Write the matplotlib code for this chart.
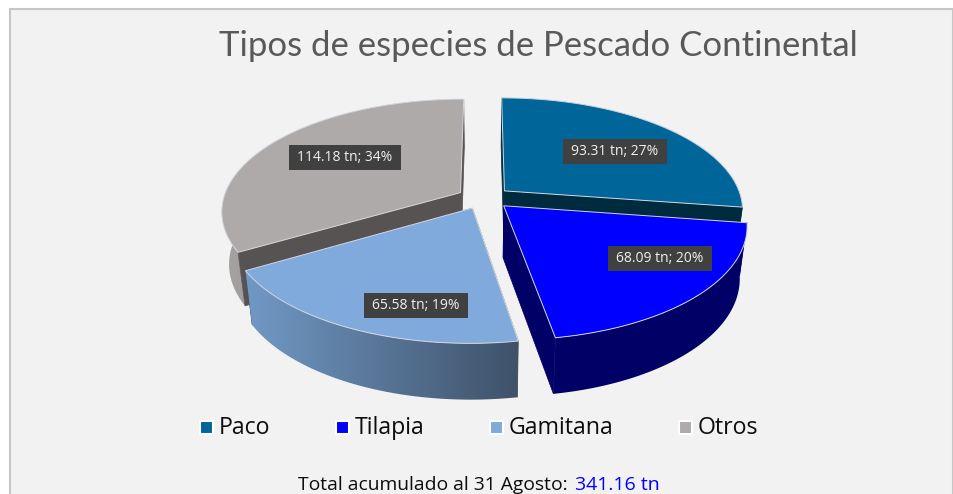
import numpy as np
import matplotlib
matplotlib.use('Agg')
import matplotlib.pyplot as plt
from matplotlib.colors import LinearSegmentedColormap
from matplotlib.patches import Polygon, Rectangle

species = ['Paco', 'Tilapia', 'Gamitana', 'Otros']
values = [93.31, 68.09, 65.58, 114.18]
percents = [27, 20, 19, 34]
total_label = '341.16 tn'

top_colors = ['#006699', '#0000ff', '#7faadb', '#aeaaaa']
cut_colors = ['#002b3e', '#000066', '#3f5269', '#575353']
wall_colors = [('#004d73', '#004d73'), ('#000066', '#000066'), ('#7199c6', '#3f5269'), ('#a5a2a1', '#807d7c')]

FONT = 'Open Sans'
CX, CY = 484, 198
RX, RY = 237, 110
PERSP = 0.16
EXPLODE_X = 0.115
EXPLODE_Y = 0.10
BOTTOM_SCALE = 0.972


def project(theta, mid):
    gx = np.sin(theta) + EXPLODE_X * np.sin(mid)
    gy = np.cos(theta) + EXPLODE_Y * np.cos(mid)
    p = 1 / (1 + PERSP * gy)
    return CX + RX * gx * p, CY - RY * gy * p


def project_apex(mid):
    gx = EXPLODE_X * np.sin(mid)
    gy = EXPLODE_Y * np.cos(mid)
    p = 1 / (1 + PERSP * gy)
    return CX + RX * gx * p, CY - RY * gy * p


def lower(pts):
    pts = np.asarray(pts, dtype=float)
    depth = 46 + 0.03 * pts[:, 1]
    return np.column_stack([CX + (pts[:, 0] - CX) * BOTTOM_SCALE, pts[:, 1] + depth])


fig = plt.figure(figsize=(9.54, 4.94), dpi=100, facecolor='white')
ax = fig.add_axes([0, 0, 1, 1])
ax.axis('off')

ax.add_patch(Rectangle((10, 9), 943, 520, facecolor='#f2f2f2', edgecolor='#c6c6c6', linewidth=1.5))

fractions = np.array(values) / sum(values)
edges = np.concatenate([[0], np.cumsum(fractions)]) * 2 * np.pi
slices = []
for i in range(len(values)):
    mid = (edges[i] + edges[i + 1]) / 2
    th = np.linspace(edges[i], edges[i + 1], 80)
    arc = np.column_stack(project(th, mid))
    apex = np.array(project_apex(mid))
    slices.append((arc, apex))

# back slices first, the front ones cover their cut faces
z = 2
for i in [0, 3, 2, 1]:
    arc, apex = slices[i]
    arc_low = lower(arc)
    apex_low = lower([apex])[0]
    back = i in (0, 3)

    for end, end_low in [(arc[0], arc_low[0]), (arc[-1], arc_low[-1])]:
        ax.add_patch(Polygon([apex, end, end_low, apex_low], closed=True, facecolor=cut_colors[i],
                             edgecolor=cut_colors[i], linewidth=0.5, zorder=z + (0.1 if back else 0)))

    wall = Polygon(np.vstack([arc, arc_low[::-1]]), closed=True, facecolor='none', edgecolor='none',
                   zorder=z + (0 if back else 0.1))
    ax.add_patch(wall)
    all_pts = np.vstack([arc, arc_low])
    xa, xb = all_pts[:, 0].min(), all_pts[:, 0].max()
    ya, yb = all_pts[:, 1].min(), all_pts[:, 1].max()
    cmap = LinearSegmentedColormap.from_list('wall', wall_colors[i])
    im = ax.imshow(np.linspace(0, 1, 256).reshape(1, -1), extent=[xa, xb, yb, ya], cmap=cmap,
                   aspect='auto', zorder=z + (0 if back else 0.1), interpolation='bilinear')
    im.set_clip_path(wall)

    ax.add_patch(Polygon(np.vstack([[apex], arc]), closed=True, facecolor=top_colors[i],
                         edgecolor='#d4d8e0', linewidth=0.7, zorder=z + 0.2))
    z += 1

ax.set_xlim(0, 954)
ax.set_ylim(494, 0)

# data labels
label_pos = [(615, 151.5), (660, 258.5), (416, 305.5), (345, 157.5)]
renderer = fig.canvas.get_renderer()
for v, pc, (lx, ly) in zip(values, percents, label_pos):
    t = ax.text(lx, ly, f'{v:.2f} tn; {pc}%', color='#f0f0f0', fontsize=10, family=FONT, ha='center', va='center',
                zorder=11)
    w = t.get_window_extent(renderer).width + 17
    ax.add_patch(Rectangle((lx - w / 2, ly - 12.5), w, 25, facecolor='#404040', edgecolor='none', zorder=10))

ax.text(538, 46, 'Tipos de especies de Pescado Continental', color='#595959', fontsize=25, family='Lato',
        ha='center', va='center', zorder=10)

# legend
legend_x = [207, 343, 497, 686]
for name, col, lx in zip(species, top_colors, legend_x):
    ax.add_patch(Rectangle((lx - 6.5, 420.5), 13, 13, facecolor=col, edgecolor='white', linewidth=1.5, zorder=10))
    ax.text(lx + 12, 428, name, color='#0d0d0d', fontsize=16.7, family=FONT, ha='left', va='center', zorder=10)

ax.text(568, 490, 'Total acumulado al 31 Agosto:', color='#0d0d0d', fontsize=13.85, family=FONT,
        ha='right', va='baseline', zorder=10)
ax.text(575, 490, total_label, color='#0000ff', fontsize=14, family=FONT, ha='left', va='baseline', zorder=10)

fig.savefig('out.png', dpi=100, facecolor='white')
